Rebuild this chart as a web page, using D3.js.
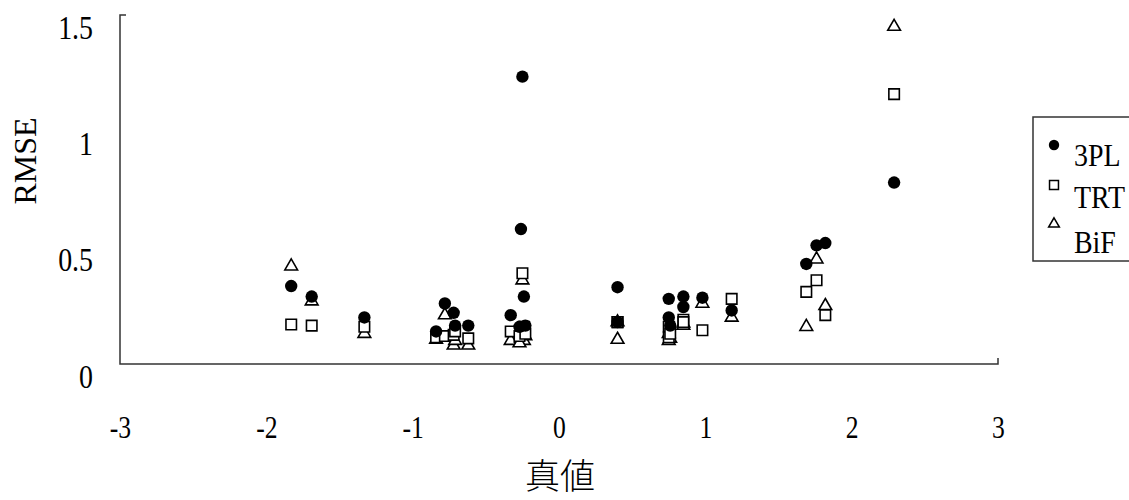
<!DOCTYPE html>
<html>
<head>
<meta charset="utf-8">
<script src="https://cdn.jsdelivr.net/npm/d3@7"></script>
<style>
  body { margin: 0; background: #fff; }
  svg text { font-family: "Liberation Serif", "Times New Roman", serif; fill: #000; }
</style>
</head>
<body>
<script>
// true theta of each item (x) and the RMSE of the three methods
const trueValues = [-1.83, -1.69, -1.33, -0.84, -0.78, -0.72, -0.71, -0.62, -0.33, -0.25,
                    -0.26, -0.24, -0.27, -0.23, 0.40, 0.40, 0.75, 0.75, 0.76, 0.85,
                    0.85, 0.98, 1.18, 1.69, 1.76, 1.82, 2.29]
const rmse3PL = [0.335, 0.29, 0.20, 0.14, 0.26, 0.22, 0.165, 0.165, 0.21, 1.235,
                 0.58, 0.29, 0.16, 0.165, 0.33, 0.18, 0.28, 0.20, 0.165, 0.29,
                 0.245, 0.285, 0.23, 0.43, 0.51, 0.52, 0.78]
const rmseTRT = [0.17, 0.165, 0.16, 0.115, 0.12, 0.125, 0.14, 0.11, 0.14, 0.39,
                 0.14, 0.16, 0.12, 0.13, 0.18, 0.18, 0.16, 0.115, 0.13, 0.19,
                 0.18, 0.145, 0.28, 0.31, 0.36, 0.21, 1.16]
const rmseBiF = [0.42, 0.27, 0.13, 0.105, 0.21, 0.08, 0.10, 0.08, 0.10, 0.36,
                 0.11, 0.10, 0.09, 0.12, 0.105, 0.18, 0.13, 0.10, 0.11, 0.175,
                 0.165, 0.26, 0.20, 0.16, 0.45, 0.25, 1.45]
const xTicks = [-3, -2, -1, 0, 1, 2, 3]
const yTicks = [0, 0.5, 1, 1.5]
const seriesNames = ["3PL", "TRT", "BiF"]

const width = 1129, height = 500

const svg = d3.select("body").append("svg")
    .attr("width", width).attr("height", height)

const x = d3.scaleLinear().domain([-3, 3]).range([120, 998])
const y = d3.scaleLinear().domain([0, 1.5]).range([364, 15])

// axis frame: left line with a top stub, bottom line with a right stub
svg.append("path")
    .attr("d", `M${x(-3) + 6},${y(1.5)} H${x(-3)} V${y(0)} H${x(3)} V${y(0) - 6}`)
    .attr("fill", "none").attr("stroke", "#333").attr("stroke-width", 1.5)

// tick labels (they sit a bit below their values, as in the original)
const xAxis = svg.append("g")
    .attr("transform", `translate(0,${y(0)})`)
    .call(d3.axisBottom(x).tickValues(xTicks).tickSize(0).tickFormat(d => String(d)))
xAxis.select(".domain").remove()
xAxis.selectAll("text")
    .attr("y", 74).attr("dy", 0)
    .attr("font-size", 32)
    .attr("font-family", "Liberation Serif")
    .attr("transform", "scale(0.8,1)")

const yAxis = svg.append("g")
    .attr("transform", `translate(93,0)`)
    .call(d3.axisLeft(y).tickValues(yTicks).tickSize(0).tickPadding(0).tickFormat(d => String(d)))
yAxis.select(".domain").remove()
yAxis.selectAll("text")
    .attr("x", 0).attr("dy", 0).attr("y", 23)
    .attr("font-size", 34)
    .attr("font-family", "Liberation Serif")
    .attr("transform", "scale(0.82,1)")

// axis titles
svg.append("text")
    .attr("transform", "translate(36,161) rotate(-90)")
    .attr("text-anchor", "middle")
    .attr("font-size", 32)
    .text("RMSE")

svg.append("text")
    .attr("x", 560).attr("y", 489)
    .attr("text-anchor", "middle")
    .attr("font-size", 35)
    .style("font-family", '"Noto Sans CJK TC", "Noto Sans CJK JP", sans-serif')
    .style("font-weight", 300)
    .text("真値")

// markers, drawn BiF first so the 3PL dots sit on top
const squareSym = d3.symbol().type(d3.symbolSquare).size(110)
const triSym = d3.symbol().type(d3.symbolTriangle).size(70)

svg.append("g").selectAll("path")
    .data(trueValues.map((t, i) => [t, rmseBiF[i]]))
    .join("path")
    .attr("d", triSym)
    .attr("transform", d => `translate(${x(d[0])},${y(d[1])})`)
    .attr("fill", "#fff").attr("stroke", "#000").attr("stroke-width", 1.6)

svg.append("g").selectAll("path")
    .data(trueValues.map((t, i) => [t, rmseTRT[i]]))
    .join("path")
    .attr("d", squareSym)
    .attr("transform", d => `translate(${x(d[0])},${y(d[1])})`)
    .attr("fill", "#fff").attr("stroke", "#000").attr("stroke-width", 1.6)

svg.append("g").selectAll("circle")
    .data(trueValues.map((t, i) => [t, rmse3PL[i]]))
    .join("circle")
    .attr("cx", d => x(d[0]))
    .attr("cy", d => y(d[1]))
    .attr("r", 6.2)
    .attr("fill", "#000")

// legend
const legend = svg.append("g")
legend.append("rect")
    .attr("x", 1033).attr("y", 117).attr("width", 130).attr("height", 144)
    .attr("fill", "#fff").attr("stroke", "#333").attr("stroke-width", 1.5)

const legendY = [145, 185, 224]
const legendTextY = [166, 208, 253]
legend.append("circle").attr("cx", 1054).attr("cy", legendY[0]).attr("r", 5.2).attr("fill", "#000")
legend.append("path")
    .attr("d", d3.symbol().type(d3.symbolSquare).size(80))
    .attr("transform", `translate(1054,${legendY[1]})`)
    .attr("fill", "#fff").attr("stroke", "#000").attr("stroke-width", 1.5)
legend.append("path")
    .attr("d", d3.symbol().type(d3.symbolTriangle).size(50))
    .attr("transform", `translate(1054,${legendY[2]})`)
    .attr("fill", "#fff").attr("stroke", "#000").attr("stroke-width", 1.5)

legend.selectAll("text.lab")
    .data(seriesNames)
    .join("text")
    .attr("class", "lab")
    .attr("transform", (d, i) => `translate(1074,${legendTextY[i]}) scale(0.9,1)`)
    .attr("font-size", 31)
    .text(d => d)
</script>
</body>
</html>
